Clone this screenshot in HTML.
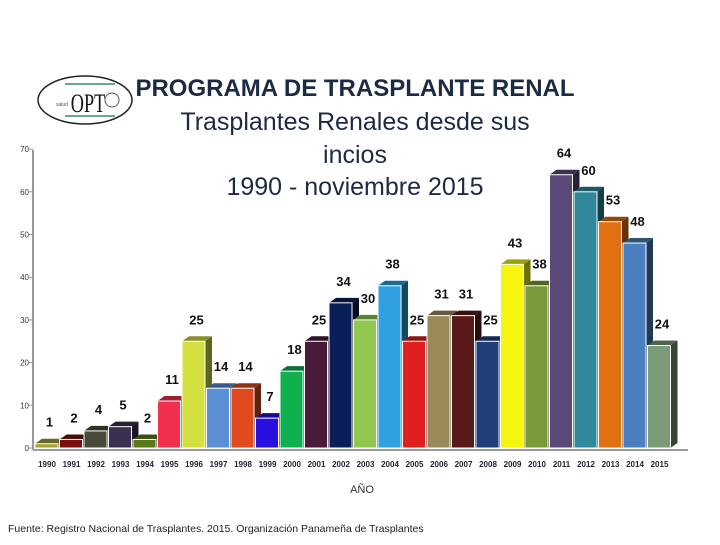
<!DOCTYPE html>
<html><head><meta charset="utf-8"><style>
body{margin:0;background:#fff;}
svg text{font-family:"Liberation Sans",sans-serif;}
</style></head><body>
<svg width="720" height="540" viewBox="0 0 720 540">
<g>
<ellipse cx="85" cy="100" rx="47" ry="24" fill="#fff" stroke="#222" stroke-width="1.5"/>
<line x1="65" y1="84" x2="115" y2="84" stroke="#3a8a6a" stroke-width="1.5"/>
<line x1="65" y1="116" x2="115" y2="116" stroke="#3a8a6a" stroke-width="1.5"/>
<text x="88" y="112" font-size="26" style="font-family:'Liberation Serif',serif" text-anchor="middle" fill="#111" transform="translate(88 0) scale(0.7 1) translate(-88 0)">OPT</text>
<circle cx="112" cy="100" r="7" fill="none" stroke="#557"/>
<text x="56" y="106" font-size="5" fill="#363">salud</text>
</g>
<g fill="#1c2a44" text-anchor="middle">
<text x="355" y="96" font-size="24" font-weight="bold">PROGRAMA DE TRASPLANTE RENAL</text>
<text x="355" y="130" font-size="25" fill="#1c2a44">Trasplantes Renales desde sus</text>
<text x="355" y="163" font-size="25">incios</text>
<text x="355" y="195" font-size="25">1990 - noviembre 2015</text>
</g>
<g id="axes"></g>
<g id="bars"></g>
<text x="362" y="493" font-size="11" text-anchor="middle" fill="#333">AÑO</text>
<text x="8" y="532" font-size="10.5" fill="#222">Fuente: Registro Nacional de Trasplantes. 2015.  Organización Panameña de Trasplantes</text>
</svg>
<script>
const years=["1990","1991","1992","1993","1994","1995","1996","1997","1998","1999","2000","2001","2002","2003","2004","2005","2006","2007","2008","2009","2010","2011","2012","2013","2014","2015"];
const values=[1,2,4,5,2,11,25,14,14,7,18,25,34,30,38,25,31,31,25,43,38,64,60,53,48,24];
const colors=["#a4a232","#7b0e0e","#4a4a3a","#3c3050","#5a7a1a","#f0304e","#d4e040","#5a8fd4","#e04a1e","#2a10e0","#10b050","#4a1a3a","#0a1f5a","#90c850","#30a0e0","#e02020","#9a8a5a","#5a1a1a","#203f7a","#f5f510","#7a9a3a","#5a4a7a","#30889a","#e07010","#4a80c0","#7a9a7a"];
const yTicks=[0,10,20,30,40,50,60,70];
const NS="http://www.w3.org/2000/svg";
const y0=448,pxPer=4.27,x0=35,pitch=24.5,bw=23,dx=7,dy=5;
const yScale=v=>y0-v*pxPer;
const xScale=i=>x0+i*pitch;
function mk(t,a,p){const e=document.createElementNS(NS,t);for(const k in a)e.setAttribute(k,a[k]);p.appendChild(e);return e;}
function shade(c,f){const n=parseInt(c.slice(1),16);let r=(n>>16)*f,g=((n>>8)&255)*f,b=(n&255)*f;return `rgb(${r|0},${g|0},${b|0})`;}
const ax=document.getElementById('axes');
const yl=mk('line',{x1:33,y1:150,x2:33,y2:450,stroke:'#999','stroke-width':2},ax);


const xl=mk('line',{x1:33,y1:450,x2:688,y2:450,stroke:'#999','stroke-width':2},ax);


yTicks.forEach(t=>{const tx=mk('text',{x:29,y:yScale(t)+3,'font-size':8,'text-anchor':'end',fill:'#333'},ax);tx.textContent=t;


mk('line',{x1:29,y1:yScale(t),x2:33,y2:yScale(t),stroke:'#999'},ax);});
const bg=document.getElementById('bars');
values.forEach((v,i)=>{const x=xScale(i),y=yScale(v),c=colors[i];
const g=mk('g',{},bg);


mk('polygon',{points:`${x+bw},${y} ${x+bw+dx},${y-dy} ${x+bw+dx},${y0-dy} ${x+bw},${y0}`,fill:shade(c,0.45)},g);
mk('polygon',{points:`${x},${y} ${x+dx},${y-dy} ${x+bw+dx},${y-dy} ${x+bw},${y}`,fill:shade(c,0.65)},g);
mk('rect',{x:x,y:y,width:bw,height:y0-y,fill:c,stroke:'#fff','stroke-width':1},g);
const lb=mk('text',{x:x+bw/2+3,y:y-17,'font-size':13,'font-weight':'bold','text-anchor':'middle',fill:'#111'},bg);lb.textContent=v;


const xt=mk('text',{x:x+12,y:467,'font-size':8,'font-weight':'bold','text-anchor':'middle',fill:'#223'},bg);xt.textContent=years[i];


});
</script>
</body></html>
